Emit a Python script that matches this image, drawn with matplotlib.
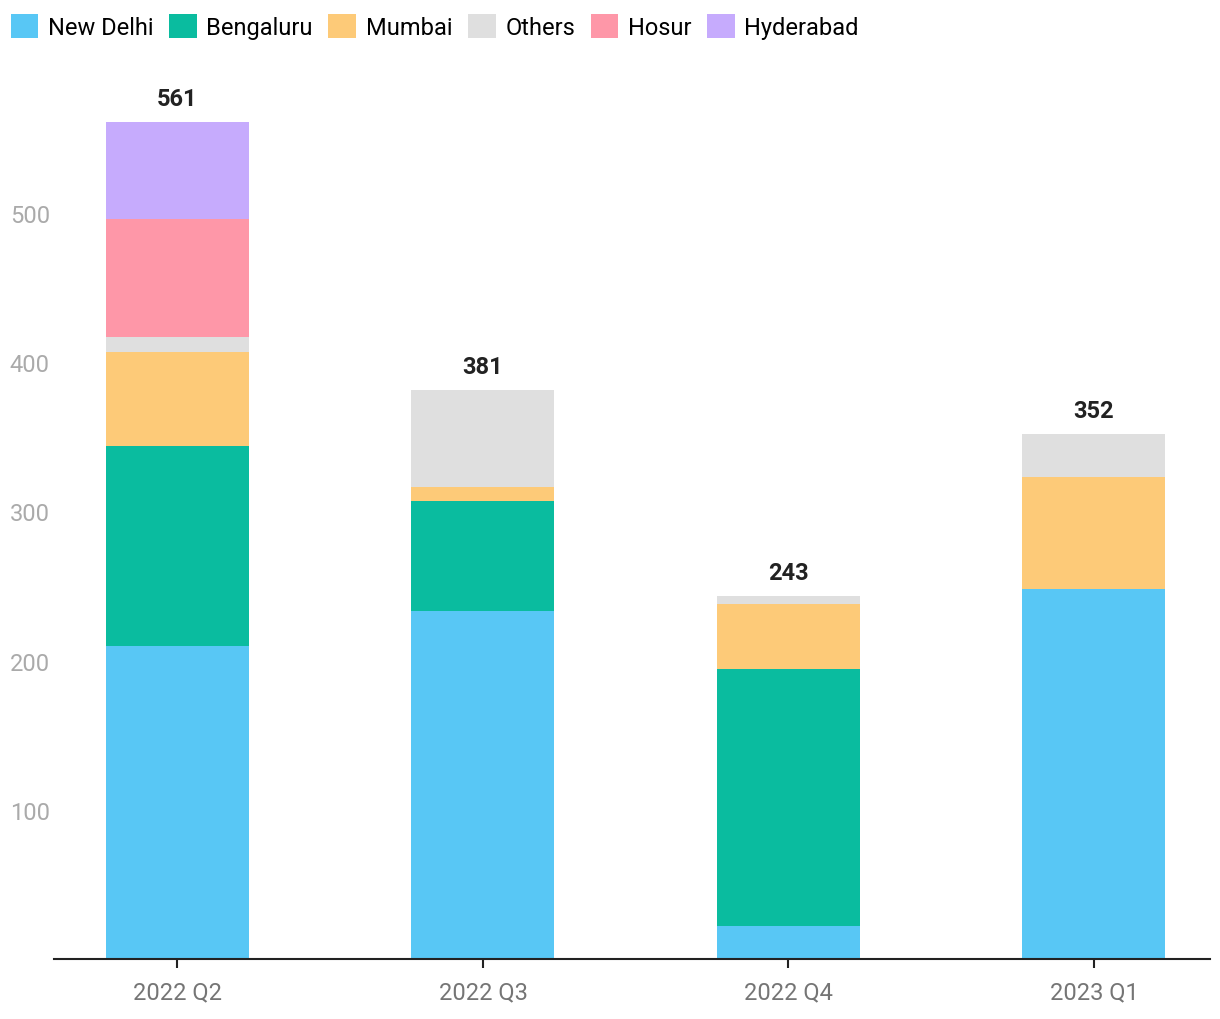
import numpy as np
import matplotlib.pyplot as plt
from matplotlib.patches import Patch

plt.rcParams['font.family'] = ['Roboto', 'DejaVu Sans']

quarters = ['2022 Q2', '2022 Q3', '2022 Q4', '2023 Q1']
new_delhi = [210, 233, 22, 248]
bengaluru = [134, 74, 172, 0]
mumbai = [63, 9, 44, 75]
others = [10, 65, 5, 29]
hosur = [79, 0, 0, 0]
hyderabad = [65, 0, 0, 0]

series = [
    ('New Delhi', new_delhi, '#58c7f5'),
    ('Bengaluru', bengaluru, '#0abc9f'),
    ('Mumbai', mumbai, '#fdca78'),
    ('Others', others, '#dfdfdf'),
    ('Hosur', hosur, '#fe97a8'),
    ('Hyderabad', hyderabad, '#c6abfd'),
]

fig = plt.figure(figsize=(12.2, 10.2), dpi=100)
ax = fig.add_axes([0.0443, 0.0588, 0.9475, 0.8487])

x = np.arange(len(quarters))
bottom = np.zeros(len(quarters))
handles = []
for name, vals, col in series:
    vals = np.array(vals, dtype=float)
    ax.bar(x, vals, 0.468, bottom=bottom, color=col, linewidth=0)
    bottom += vals
    handles.append(Patch(facecolor=col, label=name))

for xi, tot in zip(x, bottom):
    ax.text(xi, tot + 8, f'{int(tot)}', ha='center', va='bottom',
            fontsize=17, fontweight='bold', color='#222222')

ax.set_xlim(-0.404, 3.38)
ax.set_ylim(0, 580)
ax.set_xticks(x)
ax.set_xticklabels(quarters, fontsize=17, color='#757575')
ax.set_yticks([100, 200, 300, 400, 500])
ax.set_yticklabels(['100', '200', '300', '400', '500'], fontsize=17, color='#aaaaaa')
ax.tick_params(axis='y', length=0, pad=3)
ax.tick_params(axis='x', length=6.5, width=1.5, color='#222222', pad=9)
for s in ['top', 'right', 'left']:
    ax.spines[s].set_visible(False)
ax.spines['bottom'].set_color('#222222')
ax.spines['bottom'].set_linewidth(1.5)

fig.legend(handles=handles, loc='upper left', bbox_to_anchor=(-0.003, 0.999), ncol=6,
           frameon=False, fontsize=17, handlelength=1.18, handleheight=1.18,
           handletextpad=0.4, columnspacing=0.66, borderaxespad=0.2)

fig.savefig('out.png', dpi=100)
